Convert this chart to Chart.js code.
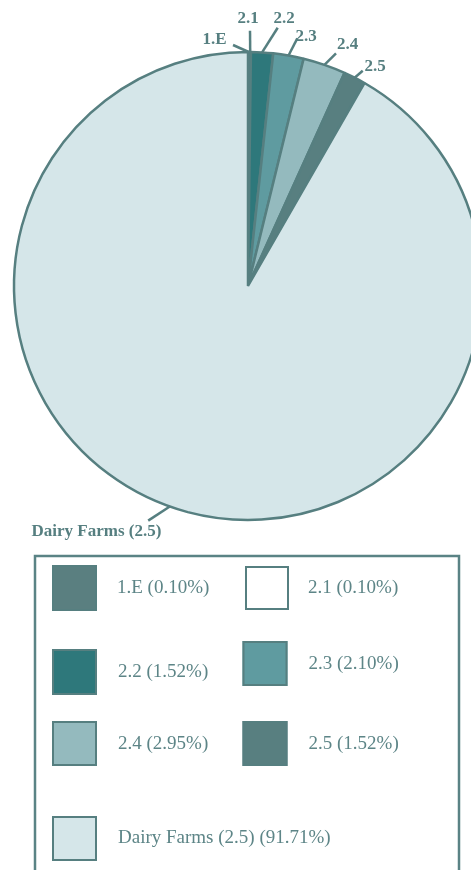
<!DOCTYPE html>
<html>
<head>
<meta charset="utf-8">
<script src="https://cdn.jsdelivr.net/npm/chart.js@4"></script>
<style>
html,body{margin:0;padding:0;overflow:hidden;background:#fff;width:471px;height:870px;}
canvas{display:block;}
</style>
</head>
<body>
<canvas id="c" width="496" height="870" style="width:496px;height:870px"></canvas>
<script>
// ---- data ----
const categories = ['1.E', '2.1', '2.2', '2.3', '2.4', '2.5', 'Dairy Farms (2.5)'];
const shares = [0.10, 0.10, 1.52, 2.10, 2.95, 1.52, 91.71];
const sliceColors = ['#5a7f80', '#ffffff', '#2e787b', '#5f9ba0', '#94babe', '#587f80', '#d5e6e9'];

// ---- layout / style (not data) ----
const edge = '#567f80';
const textCol = '#5d8587';
// per label: [angle shift deg, line dx, line dy, text dx, text dy]
const labelLayout = [
  [0, -15.7, -7, -34.2, -8.5],
  [0, -0.2, -21.3, -2.2, -29],
  [0, 15.6, -24.7, 21.9, -29.4],
  [0, 8.8, -17.2, 17.5, -14.5],
  [0, 11.6, -11.5, 23.1, -15.8],
  [0, 8.1, -6.9, 20.4, -6.6],
  [4.6, -21.6, 14.1, -73.4, 29.4]
];
// legend item: [box x, box y, box w, box h, text x, text baseline]
const legendLayout = [
  [52, 565, 45, 46, 117, 592.5],
  [245, 566, 44, 44, 308, 592.5],
  [52, 649, 45, 46, 118, 676.5],
  [242.5, 641, 45, 45, 308.5, 669],
  [52, 721, 45, 45, 118, 748.5],
  [242.5, 721, 45, 45, 308.5, 748.5],
  [52, 816, 45, 45, 118, 843]
];

const sliceLabels = {
  id: 'sliceLabels',
  afterDatasetsDraw(chart) {
    const ctx = chart.ctx;
    const arcs = chart.getDatasetMeta(0).data;
    ctx.save();
    ctx.strokeStyle = edge;
    ctx.fillStyle = edge;
    ctx.lineWidth = 2.5;
    ctx.font = 'bold 17px "Liberation Serif", "DejaVu Serif", serif';
    ctx.textAlign = 'center';
    ctx.textBaseline = 'alphabetic';
    arcs.forEach((arc, i) => {
      const p = arc.getProps(['x', 'y', 'startAngle', 'endAngle', 'outerRadius'], true);
      const L = labelLayout[i];
      const a = (p.startAngle + p.endAngle) / 2 + L[0] * Math.PI / 180;
      const sx = p.x + Math.cos(a) * p.outerRadius;
      const sy = p.y + Math.sin(a) * p.outerRadius;
      ctx.beginPath();
      ctx.moveTo(sx, sy);
      ctx.lineTo(sx + L[1], sy + L[2]);
      ctx.stroke();
      ctx.fillText(categories[i], sx + L[3], sy + L[4]);
    });
    ctx.restore();
  }
};

const boxLegend = {
  id: 'boxLegend',
  afterDraw(chart) {
    const ctx = chart.ctx;
    ctx.save();
    ctx.strokeStyle = '#5a8385';
    ctx.lineWidth = 2.5;
    ctx.strokeRect(35, 556, 424, 400);
    ctx.font = '19px "Liberation Serif", "DejaVu Serif", serif';
    ctx.textAlign = 'left';
    ctx.textBaseline = 'alphabetic';
    categories.forEach((cat, i) => {
      const [bx, by, bw, bh, tx, ty] = legendLayout[i];
      ctx.fillStyle = sliceColors[i];
      ctx.fillRect(bx, by, bw, bh);
      ctx.strokeStyle = edge;
      ctx.lineWidth = 2;
      ctx.strokeRect(bx + 1, by + 1, bw - 2, bh - 2);
      ctx.fillStyle = textCol;
      ctx.fillText(cat + ' (' + shares[i].toFixed(2) + '%)', tx, ty);
    });
    ctx.restore();
  }
};

new Chart(document.getElementById('c'), {
  type: 'pie',
  data: {
    labels: categories,
    datasets: [{
      data: shares,
      backgroundColor: sliceColors,
      borderColor: edge,
      borderWidth: 2.5,
      radius: 234
    }]
  },
  options: {
    responsive: false,
    animation: false,
    layout: { padding: { top: 0, left: 0, right: 0, bottom: 298 } },
    plugins: { legend: { display: false }, tooltip: { enabled: false } }
  },
  plugins: [sliceLabels, boxLegend]
});
</script>
</body>
</html>
